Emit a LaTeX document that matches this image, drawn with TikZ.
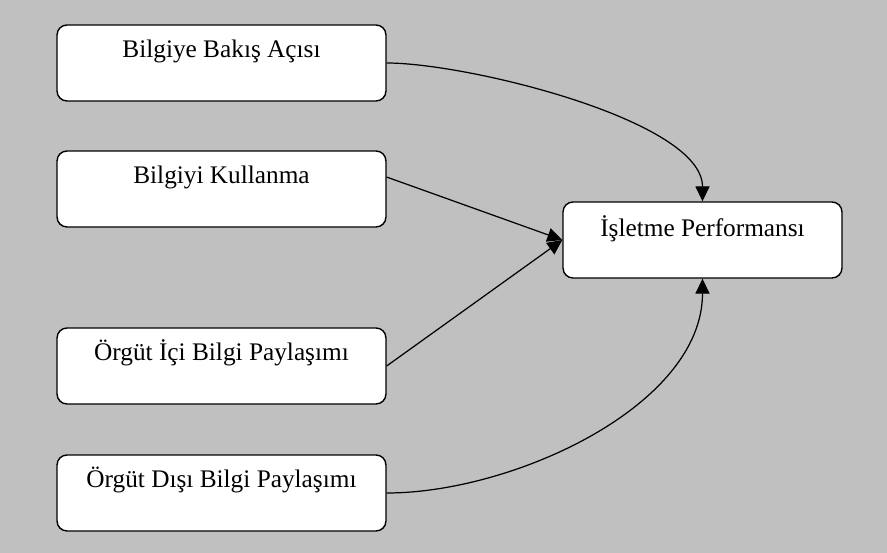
\documentclass[tikz,border=0pt]{standalone}
\usepackage{fontspec}
\setmainfont{Liberation Serif}
\usepackage{xcolor}
\usetikzlibrary{arrows.meta}
\definecolor{bggrey}{RGB}{192,192,192}
\begin{document}
\begin{tikzpicture}[x=0.02cm,y=-0.02cm]
      \tikzstyle{box}=[
        draw=black,
        line width=0.8pt,
        fill=white,
        rounded corners=0.2cm,
        inner sep=0pt,
        font=\fontsize{14.4}{17}\selectfont,
      ]
      \tikzstyle{srcbox}=[box, minimum width=6.58cm, text height=0.66cm, text depth=0.86cm]
      \tikzstyle{dstbox}=[box, minimum width=5.58cm, text height=0.70cm, text depth=0.82cm]
      \tikzstyle{dedge}=[-{Triangle[length=8.5pt,width=8pt]}, line width=0.7pt, draw=black]

      % background
      \fill[bggrey] (0,0) rectangle (887,553);
      \useasboundingbox (0,0) rectangle (887,553);

      \node[srcbox] (bakis) at (221.5,63) {Bilgiye Bakış Açısı};
      \node[srcbox] (kullanma) at (221.5,189) {Bilgiyi Kullanma};
      \node[srcbox] (ici) at (221.5,366) {Örgüt İçi Bilgi Paylaşımı};
      \node[srcbox] (disi) at (221.5,493) {Örgüt Dışı Bilgi Paylaşımı};
      \node[dstbox] (perf) at (702.5,240) {İşletme Performansı};

      \draw[dedge] (bakis.east) to[out=0,in=90,looseness=0.6] (perf.north);
      \draw[dedge] ([yshift=6.8pt]kullanma.east) -- (perf.west);
      \draw[dedge] (ici.east) -- (perf.west);
      \draw[dedge] (disi.east) to[out=0,in=-90,looseness=0.85] (perf.south);
\end{tikzpicture}
\end{document}
